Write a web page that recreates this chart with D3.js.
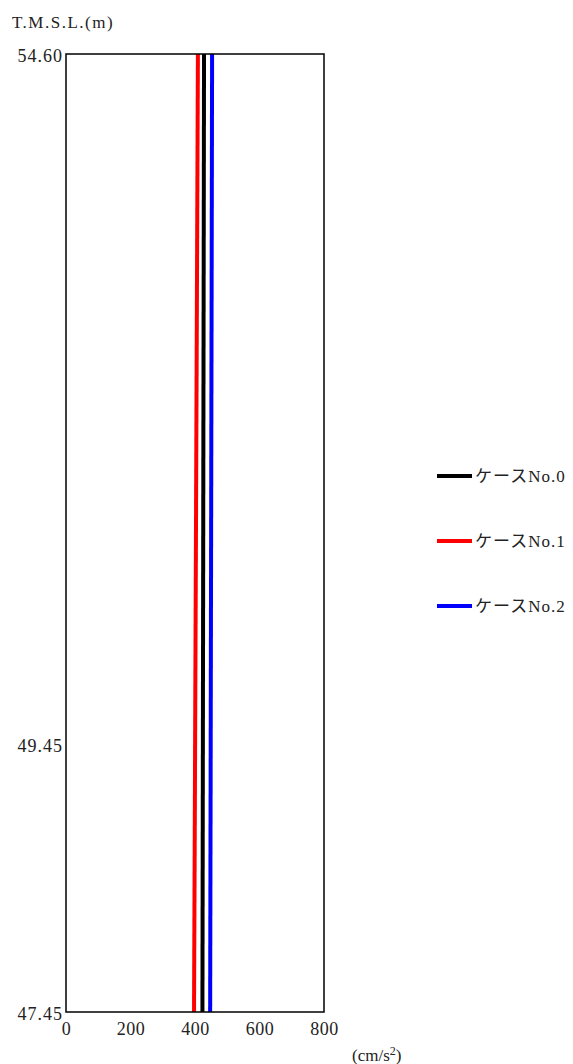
<!DOCTYPE html>
<html><head><meta charset="utf-8">
<script src="https://cdn.jsdelivr.net/npm/d3@7"></script>
<style>
body{margin:0;background:#fff;}
</style></head>
<body><svg id="c" width="573" height="1064"></svg>
<script>
const elevations = [54.60, 47.45];
const yTicks = [54.60, 49.45, 47.45];
const xTicks = [0, 200, 400, 600, 800];
const seriesNames = ["ケースNo.0", "ケースNo.1", "ケースNo.2"];
const seriesColors = ["#000000", "#ff0000", "#0000ff"];
const case0 = [428, 423];
const case1 = [409, 397];
const case2 = [453, 447];
const seriesValues = [case0, case1, case2];

const FONT = "'Liberation Serif', 'Times New Roman', 'DejaVu Serif', 'Noto Sans CJK JP', serif";
const svg = d3.select("#c").attr("font-family", FONT);
const L = 66, R = 324, T = 54, B = 1012;
const x = d3.scaleLinear().domain([0, 800]).range([L, R]);
const y = d3.scaleLinear().domain([47.45, 54.60]).range([B, T]);

const xa = svg.append("g").attr("transform", `translate(0,${B})`)
  .call(d3.axisBottom(x).tickValues(xTicks).tickSize(0).tickPadding(10).tickFormat(d3.format("d")));
xa.attr("font-family", FONT).attr("font-size", 18);
xa.select(".domain").remove();
xa.selectAll("text").attr("fill", "#222").attr("letter-spacing", 0.5);

const ya = svg.append("g").attr("transform", `translate(${L},0)`)
  .call(d3.axisLeft(y).tickValues(yTicks).tickSize(0).tickPadding(3).tickFormat(d3.format(".2f")));
ya.attr("font-family", FONT).attr("font-size", 18);
ya.select(".domain").remove();
ya.selectAll("text").attr("dy", "0.42em").attr("letter-spacing", 1).attr("fill", "#222");

const line = d3.line().x(d => x(d[0])).y(d => y(d[1]));
seriesValues.forEach((vals, i) => {
  svg.append("path").datum(vals.map((v, j) => [v, elevations[j]]))
    .attr("d", line).attr("fill", "none").attr("stroke", seriesColors[i]).attr("stroke-width", 4);
});

svg.append("rect").attr("x", L).attr("y", T).attr("width", R - L).attr("height", B - T)
  .attr("fill", "none").attr("stroke", "#000").attr("stroke-width", 1.5);

svg.append("text").attr("x", 12).attr("y", 28).attr("font-size", 17).attr("fill", "#222")
  .attr("letter-spacing", 1.5).text("T.M.S.L.(m)");
const u = svg.append("text").attr("x", 352).attr("y", 1061).attr("font-size", 17).attr("fill", "#222");
u.append("tspan").text("(cm/s");
u.append("tspan").attr("font-size", 12).attr("dy", -6).text("2");
u.append("tspan").attr("dy", 6).text(")");

const legY = [476, 541, 606];
seriesNames.forEach((n, i) => {
  svg.append("line").attr("x1", 437).attr("x2", 472).attr("y1", legY[i]).attr("y2", legY[i])
    .attr("stroke", seriesColors[i]).attr("stroke-width", 4);
  svg.append("text").attr("x", 475).attr("y", legY[i] + 6).attr("font-size", 17)
    .attr("fill", "#222").attr("letter-spacing", 1).text(n);
});
</script></body></html>
